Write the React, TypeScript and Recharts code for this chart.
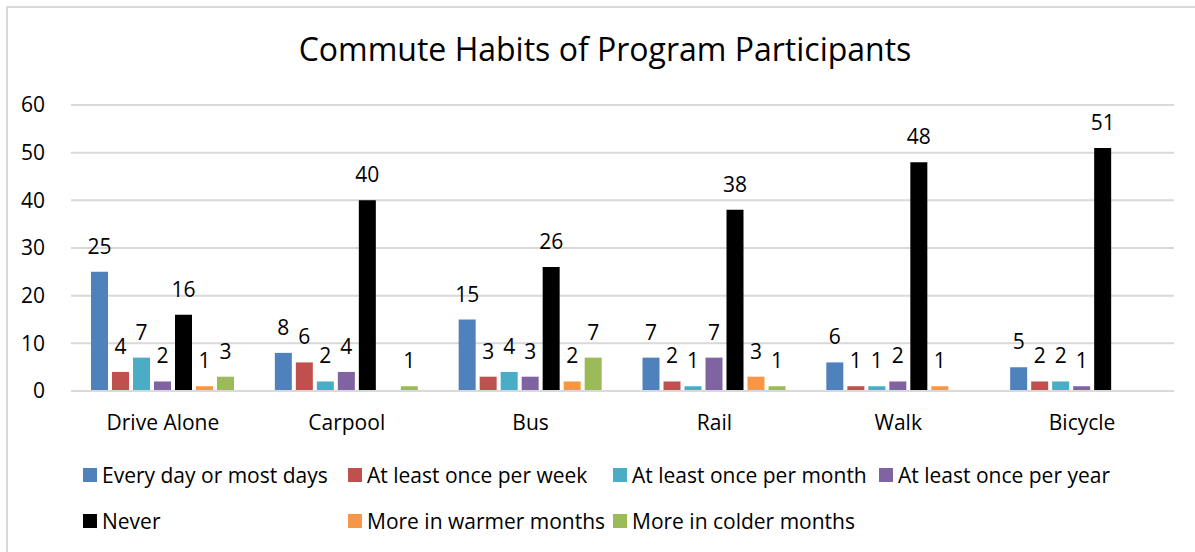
import { BarChart, Bar, XAxis, YAxis, CartesianGrid, LabelList } from 'recharts';

const categories = ['Drive Alone', 'Carpool', 'Bus', 'Rail', 'Walk', 'Bicycle'];
const everyDay = [25, 8, 15, 7, 6, 5];
const weekly = [4, 6, 3, 2, 1, 2];
const monthly = [7, 2, 4, 1, 1, 2];
const yearly = [2, 4, 3, 7, 2, 1];
const never = [16, 40, 26, 38, 48, 51];
const warmer = [1, null, 2, 3, 1, null];
const colder = [3, 1, 7, 1, null, null];
const yTicks = [0, 10, 20, 30, 40, 50, 60];

const series = [
    { key: 'everyDay', name: 'Every day or most days', values: everyDay, color: '#4f81bd' },
    { key: 'weekly', name: 'At least once per week', values: weekly, color: '#c0504d' },
    { key: 'monthly', name: 'At least once per month', values: monthly, color: '#4bacc6' },
    { key: 'yearly', name: 'At least once per year', values: yearly, color: '#8064a2' },
    { key: 'never', name: 'Never', values: never, color: '#000000' },
    { key: 'warmer', name: 'More in warmer months', values: warmer, color: '#f79646' },
    { key: 'colder', name: 'More in colder months', values: colder, color: '#9bbb59' },
];

const data = categories.map((cat, i) => {
    const row: any = { name: cat };
    series.forEach(s => { row[s.key] = s.values[i]; });
    return row;
});

const FONT = '"Open Sans", Lato, sans-serif';

// legend columns like Excel: 4 per row, "Never" starts a new row
const legendRows = [series.slice(0, 4), series.slice(4)];
const legendCols = [83, 348, 613, 879];

export default function App() {
    return (
        <div style={{ position: 'absolute', left: 0, top: 0, width: 1195, height: 552, background: '#fff', fontFamily: FONT }}>
            <div style={{ position: 'absolute', left: 6, top: 6, width: 1189, height: 546, borderTop: '2px solid #d9d9d9', borderLeft: '2px solid #d9d9d9', boxSizing: 'border-box' }} />
            <div style={{ position: 'absolute', left: 0, width: 1210, top: 28, textAlign: 'center', fontSize: 32, color: '#000', lineHeight: '42px' }}>
                Commute Habits of Program Participants
            </div>
            <div style={{ position: 'absolute', left: 0, top: 0 }}>
                <BarChart width={1195} height={552} data={data}
                    margin={{ top: 105, right: 21, bottom: 121, left: 0 }}
                    barCategoryGap={20} barGap={4}>
                    <CartesianGrid vertical={false} stroke="#d9d9d9" strokeWidth={2} />
                    <XAxis dataKey="name" height={40} tickLine={false} axisLine={{ stroke: '#d9d9d9', strokeWidth: 2 }}
                        tickMargin={18} tick={{ fill: '#000', fontSize: 21, fontFamily: FONT }} />
                    <YAxis width={71} domain={[0, 60]} ticks={yTicks} tickLine={false} axisLine={false}
                        tickMargin={20} tick={{ fill: '#000', fontSize: 21, fontFamily: FONT }} />
                    {series.map(s => (
                        <Bar key={s.key} dataKey={s.key} name={s.name} fill={s.color} isAnimationActive={false}>
                            <LabelList dataKey={s.key}
                                content={(p: any) => p.value == null ? null : (
                                    <text x={p.x + p.width / 2} y={p.y - 18} textAnchor="middle" fontSize={21} fontFamily={FONT} fill="#000">{p.value}</text>
                                )} />
                        </Bar>
                    ))}
                </BarChart>
            </div>
            {legendRows.map((row, r) => row.map((s, c) => (
                <div key={s.key} style={{ position: 'absolute', left: legendCols[c], top: 461 + r * 46, display: 'flex', alignItems: 'center', fontSize: 21, color: '#000', whiteSpace: 'nowrap' }}>
                    <span style={{ display: 'inline-block', width: 14, height: 14, background: s.color, marginRight: 5 }} />
                    {s.name}
                </div>
            )))}
        </div>
    );
}
